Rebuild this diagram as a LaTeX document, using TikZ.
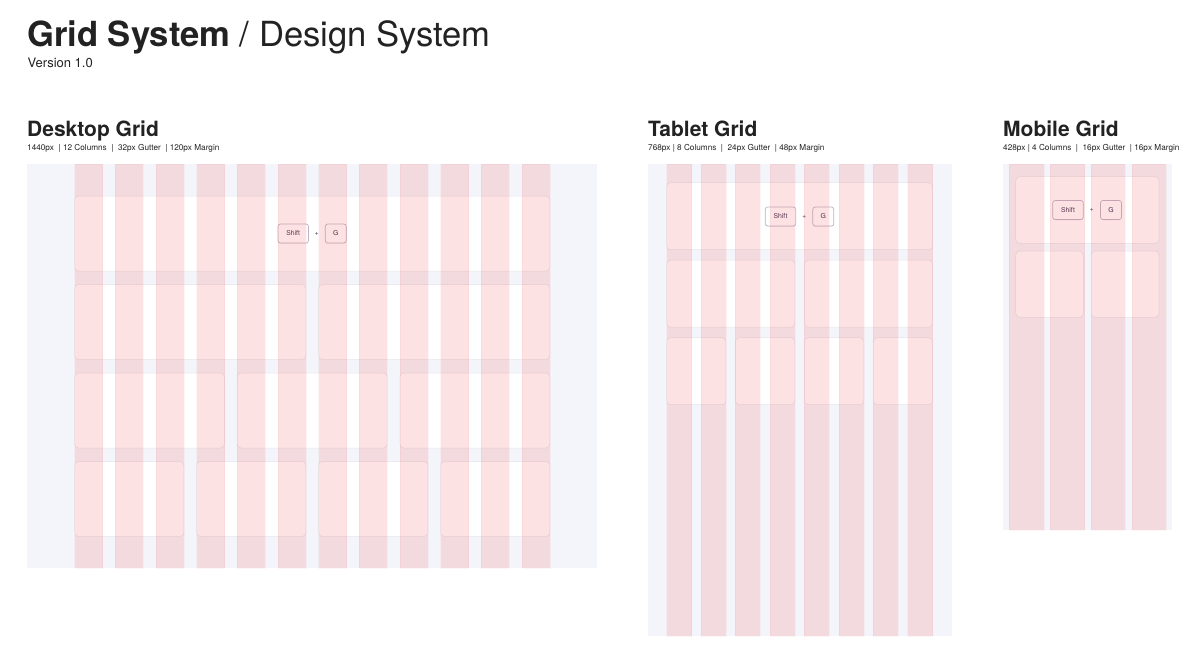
\documentclass[tikz,border=0pt]{standalone}
\usepackage{fontspec}
\setmainfont{TeX Gyre Heros}
\usetikzlibrary{shadows}
\definecolor{bgframe}{HTML}{F4F5FA}
\definecolor{colred}{RGB}{240,80,80}
\definecolor{cardline}{HTML}{E6E4EA}
\definecolor{keyline}{HTML}{BDB4C6}
\definecolor{keytext}{HTML}{3A3050}
\definecolor{ink}{HTML}{222222}
\tikzset{
  frame/.style={fill=bgframe},
  card/.style={fill=white, draw=cardline, line width=0.5pt, rounded corners=4pt},
  gridcol/.style={fill=colred, fill opacity=0.16, draw=colred, draw opacity=0.05, line width=0.4pt},
  keybox/.style={draw=keyline, fill=white, rounded corners=2.5pt, line width=0.7pt,
    minimum height=19pt, inner sep=0pt, font=\fontsize{6.8}{7}\selectfont, text=keytext,
    drop shadow={shadow xshift=0pt, shadow yshift=-0.8pt, opacity=0.12}},
  plus/.style={inner sep=0pt, font=\fontsize{6.5}{7}\selectfont, text=keytext},
  bigtitle/.style={anchor=base west, inner sep=0pt, text=ink, font=\fontsize{34.6}{40}\selectfont},
  version/.style={anchor=base west, inner sep=0pt, text=ink, font=\fontsize{13}{15}\selectfont},
  gridtitle/.style={anchor=base west, inner sep=0pt, text=ink, font=\fontsize{21}{24}\selectfont\bfseries},
  gridsub/.style={anchor=base west, inner sep=0pt, text=ink, font=\fontsize{8.2}{9}\selectfont}
}
\begin{document}
\begin{tikzpicture}[x=1pt, y=-1pt]
\useasboundingbox[fill=white] (0,0) rectangle (1200,662);

% ---------- titles ----------
\node[bigtitle] (title) at (27,46) {\bfseries Grid System \mdseries/ Design System};
\node[version] (version) at (27.5,67.7) {Version 1.0};

\node[gridtitle] (dtitle) at (27,136.7) {Desktop Grid};
\node[gridsub] (dsub) at (27,150) {1440px \ | 12 Columns \ | \ 32px Gutter \ | 120px Margin};
\node[gridtitle] (ttitle) at (648,136.7) {Tablet Grid};
\node[gridsub] (tsub) at (648,150) {768px | 8 Columns \ | \ 24px Gutter \ | 48px Margin};
\node[gridtitle] (mtitle) at (1003,136.7) {Mobile Grid};
\node[gridsub] (msub) at (1003,150) {428px | 4 Columns \ | \ 16px Gutter \ | 16px Margin};

% ---------- frames ----------
\fill[frame] (27,164) rectangle (597,568);
\fill[frame] (648,164) rectangle (952,636);
\fill[frame] (1003,164) rectangle (1172,530);

% ---------- desktop cards ----------
\foreach \ty/\a/\b in {196/1/12, 284.5/1/6, 284.5/7/12, 373/1/4, 373/5/8, 373/9/12,
                       461.5/1/3, 461.5/4/6, 461.5/7/9, 461.5/10/12}
  \draw[card] ({74.5+(\a-1)*40.67},\ty) rectangle ({74.5+(\b-1)*40.67+28},\ty+75);

% ---------- tablet cards ----------
\foreach \ty/\a/\b in {182.7/1/8, 260.2/1/4, 260.2/5/8,
                       337.7/1/2, 337.7/3/4, 337.7/5/6, 337.7/7/8}
  \draw[card] ({666.5+(\a-1)*34.45},\ty) rectangle ({666.5+(\b-1)*34.45+25},\ty+67);

% ---------- mobile cards ----------
\draw[card] (1015.7,176.7) rectangle (1159,243.3);
\draw[card] (1015.7,251) rectangle (1083.3,317.3);
\draw[card] (1091,251) rectangle (1159,317.3);

% ---------- shortcut keys ----------
\node[keybox, minimum width=30.5pt] (dshift) at (293.2,233.5) {Shift};
\node[plus] (dplus) at (316.8,233.5) {+};
\node[keybox, minimum width=21pt] (dg) at (335.8,233.5) {G};

\node[keybox, minimum width=30.5pt] (tshift) at (780.5,216.5) {Shift};
\node[plus] (tplus) at (804.2,216.5) {+};
\node[keybox, minimum width=21pt] (tg) at (823.3,216.5) {G};

\node[keybox, minimum width=30.5pt] (mshift) at (1068,210) {Shift};
\node[plus] (mplus) at (1091.8,210) {+};
\node[keybox, minimum width=21pt] (mg) at (1111,210) {G};

% ---------- column overlays ----------
\foreach \i in {0,...,11}
  \filldraw[gridcol] ({74.5+\i*40.67},164) rectangle ++(28,404);
\foreach \i in {0,...,7}
  \filldraw[gridcol] ({666.5+\i*34.45},164) rectangle ++(25,472);
\foreach \i in {0,...,3}
  \filldraw[gridcol] ({1009.3+\i*40.8},164) rectangle ++(34.45,366);
\end{tikzpicture}
\end{document}
